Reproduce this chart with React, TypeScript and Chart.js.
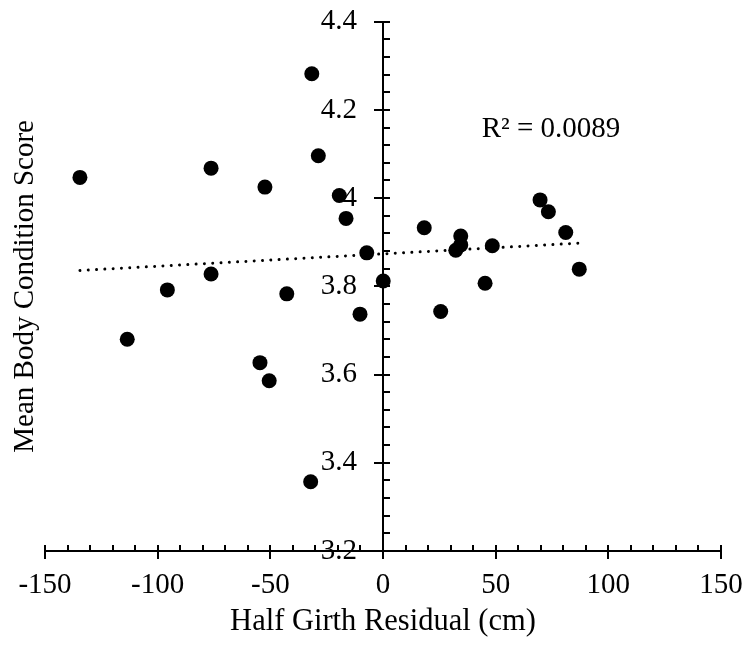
import React, { useEffect, useRef } from "react";
import { Chart, registerables } from "chart.js";

Chart.register(...registerables);

// ---- data ----
const girthResidual = [
  -31.6, -134.5, -76.3, -28.7, -52.4, -19.4, -16.4, -7.2, -76.3, -95.7,
  -42.7, -10.2, -113.5, -54.6, -50.5, -32.1, 0.1, 18.3, 34.5, 32.3,
  34.5, 48.5, 45.3, 25.6, 69.7, 73.4, 81.1, 87.1,
];
const bodyCondition = [
  4.282, 4.047, 4.068, 4.096, 4.025, 4.006, 3.954, 3.876, 3.828, 3.792,
  3.783, 3.737, 3.68, 3.627, 3.586, 3.357, 3.812, 3.933, 3.914, 3.882,
  3.894, 3.892, 3.807, 3.743, 3.996, 3.969, 3.922, 3.839,
];
const trendX = [-134.5, 87.1];
const trendY = [3.836, 3.898];

const xTickValues = [-150, -100, -50, 0, 50, 100, 150];
const yTickValues = [3.2, 3.4, 3.6, 3.8, 4.0, 4.2, 4.4];
const xMinorStep = 10;
const yMinorStep = 0.04;

const xTitle = "Half Girth Residual (cm)";
const yTitle = "Mean Body Condition Score";
const r2Label = "R² = 0.0089";
const r2Anchor = [43.8, 4.139];

const FONT = "'Liberation Serif', 'Times New Roman', serif";
const FS = 29;
const FS_TITLE = 30.5;

const zeroPadding = (s: any) => {
  s.paddingTop = 0;
  s.paddingBottom = 0;
  s.paddingLeft = 0;
  s.paddingRight = 0;
};

const axisTicksPlugin = {
  id: "axisTicks",
  afterDraw(chart: any) {
    const { ctx } = chart;
    const x = chart.scales.x;
    const y = chart.scales.y;
    const x0 = x.getPixelForValue(0);
    const y0 = y.getPixelForValue(yTickValues[0]);
    ctx.save();
    ctx.strokeStyle = "#000";
    ctx.lineWidth = 2;
    ctx.beginPath();
    const xStart = xTickValues[0];
    const nx = Math.round((xTickValues[xTickValues.length - 1] - xStart) / xMinorStep);
    for (let i = 0; i <= nx; i++) {
      const px = Math.round(x.getPixelForValue(xStart + i * xMinorStep));
      const major = i % 5 === 0;
      ctx.moveTo(px, y0 - 6);
      ctx.lineTo(px, major ? y0 + 8 : y0);
    }
    const yStart = yTickValues[0];
    const ny = Math.round((yTickValues[yTickValues.length - 1] - yStart) / yMinorStep);
    for (let i = 0; i <= ny; i++) {
      const py = Math.round(y.getPixelForValue(yStart + i * yMinorStep));
      const major = i % 5 === 0;
      ctx.moveTo(major ? x0 - 9 : x0, py);
      ctx.lineTo(x0 + 7, py);
    }
    ctx.stroke();

    ctx.fillStyle = "#000";
    ctx.font = `${FS}px ${FONT}`;
    ctx.textAlign = "left";
    ctx.textBaseline = "alphabetic";
    ctx.fillText(r2Label, x.getPixelForValue(r2Anchor[0]), y.getPixelForValue(r2Anchor[1]));
    ctx.restore();
  },
};

export default function App() {
  const ref = useRef<HTMLCanvasElement | null>(null);

  useEffect(() => {
    document.body.style.margin = "0";
    const canvas = ref.current;
    if (!canvas) return;
    const font = { family: FONT, size: FS };
    const titleFont = { family: FONT, size: FS_TITLE };
    const chart = new Chart(canvas, {
      type: "scatter",
      data: {
        datasets: [
          {
            label: "points",
            data: girthResidual.map((v, i) => ({ x: v, y: bodyCondition[i] })),
            pointRadius: 7.5,
            pointHoverRadius: 7.5,
            pointBackgroundColor: "#000",
            pointBorderWidth: 0,
            showLine: false,
          },
          {
            label: "trend",
            data: trendX.map((v, i) => ({ x: v, y: trendY[i] })),
            showLine: true,
            borderColor: "#000",
            borderWidth: 3,
            borderDash: [0.01, 8.3],
            borderCapStyle: "round",
            pointRadius: 0,
            pointHoverRadius: 0,
            fill: false,
          },
        ],
      } as any,
      plugins: [axisTicksPlugin],
      options: {
        animation: false,
        responsive: false,
        maintainAspectRatio: false,
        events: [],
        layout: { padding: { top: 21.7, right: 27, left: 0, bottom: 0 } },
        plugins: {
          legend: { display: false },
          tooltip: { enabled: false },
        },
        scales: {
          x: {
            type: "linear",
            position: "bottom",
            min: -150,
            max: 150,
            afterBuildTicks: (s: any) => {
              s.ticks = xTickValues.map((v) => ({ value: v }));
            },
            afterFit: (s: any) => {
              s.height = 96;
              zeroPadding(s);
            },
            grid: { display: false, drawTicks: false },
            border: { display: true, color: "#000", width: 2 },
            ticks: {
              color: "#000",
              font,
              padding: 17,
              maxRotation: 0,
              autoSkip: false,
            },
            title: {
              display: true,
              text: xTitle,
              color: "#000",
              font: titleFont,
              padding: { top: 0, bottom: 7 },
            },
          },
          y: {
            type: "linear",
            position: "center",
            min: 3.2,
            max: 4.4,
            afterBuildTicks: (s: any) => {
              s.ticks = yTickValues.map((v) => ({ value: v }));
            },
            afterFit: (s: any) => {
              s.width = 0;
              zeroPadding(s);
            },
            grid: { display: false, drawTicks: false },
            border: { display: true, color: "#000", width: 2 },
            ticks: {
              color: "#000",
              font,
              padding: 26,
              autoSkip: false,
              callback: (v: any) => String(Number(Number(v).toFixed(1))),
            },
          },
          yt: {
            type: "linear",
            axis: "y",
            position: "left",
            min: 0,
            max: 1,
            afterFit: (s: any) => {
              s.width = 45;
              zeroPadding(s);
            },
            grid: { display: false, drawTicks: false },
            border: { display: false },
            ticks: { display: false },
            title: {
              display: true,
              text: yTitle,
              color: "#000",
              font: { family: FONT, size: FS },
              padding: { top: 7.6, bottom: 0 },
            },
          },
        } as any,
      },
    });
    return () => chart.destroy();
  }, []);

  return (
    <div style={{ width: 748, height: 647, background: "#fff" }}>
      <canvas ref={ref} width={748} height={647} style={{ display: "block" }} />
    </div>
  );
}
